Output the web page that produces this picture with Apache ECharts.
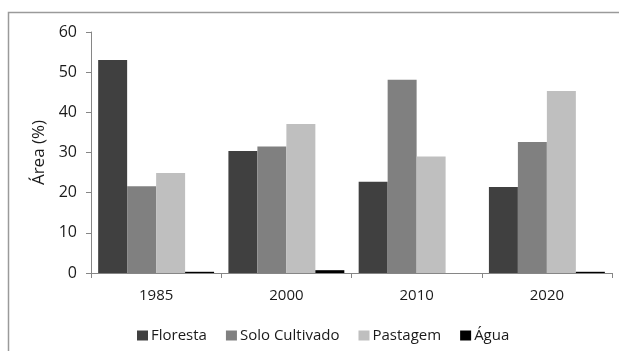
<!DOCTYPE html>
<html>
<head>
<meta charset="utf-8">
<script src="https://cdn.jsdelivr.net/npm/echarts@6/dist/echarts.min.js"></script>
<style>
  html, body { margin: 0; padding: 0; background: #ffffff; }
  #chart { width: 619px; height: 351px; }
</style>
</head>
<body>
<div id="chart"></div>
<script>
// Land cover share by year (% of area)
const years = ['1985', '2000', '2010', '2020'];
const floresta = [53.0, 30.4, 22.7, 21.4];
const soloCultivado = [21.6, 31.5, 48.1, 32.6];
const pastagem = [24.9, 37.1, 29.0, 45.3];
const agua = [0.3, 0.7, 0, 0.3];
const yTicks = { min: 0, max: 60, step: 10 };

const FONT = '"Open Sans", sans-serif';
const AXIS_COLOR = '#868686';
const TEXT_COLOR = '#1a1a1a';

const seriesDefs = [
  { name: 'Floresta', data: floresta, color: '#404040' },
  { name: 'Solo Cultivado', data: soloCultivado, color: '#808080' },
  { name: 'Pastagem', data: pastagem, color: '#bfbfbf' },
  { name: 'Água', data: agua, color: '#000000' }
];

const chart = echarts.init(document.getElementById('chart'), null, { renderer: 'canvas' });

chart.setOption({
  animation: false,
  backgroundColor: '#ffffff',
  graphic: [
    {
      type: 'rect',
      shape: { x: 8.5, y: 12.5, width: 700, height: 400 },
      style: { fill: 'none', stroke: '#9a9a9a', lineWidth: 1.5 },
      silent: true,
      z: 0
    }
  ],
  grid: { left: 91, right: 7, top: 32, bottom: 78, containLabel: false },
  legend: {
    left: 137,
    top: 328,
    padding: 0,
    itemWidth: 11,
    itemHeight: 10,
    itemGap: 19,
    icon: 'rect',
    textStyle: { fontFamily: FONT, fontSize: 15, color: TEXT_COLOR, padding: [0, 0, 0, -2] },
    data: seriesDefs.map(s => s.name)
  },
  xAxis: {
    type: 'category',
    data: years,
    axisLine: { show: true, lineStyle: { color: AXIS_COLOR, width: 1 } },
    axisTick: { show: true, length: 5, alignWithLabel: false, lineStyle: { color: AXIS_COLOR } },
    axisLabel: { margin: 15, fontFamily: FONT, fontSize: 15, color: TEXT_COLOR },
    splitLine: { show: false }
  },
  yAxis: {
    type: 'value',
    min: yTicks.min,
    max: yTicks.max,
    interval: yTicks.step,
    name: 'Área (%)',
    nameLocation: 'middle',
    nameGap: 41,
    nameRotate: 90,
    nameTextStyle: { fontFamily: FONT, fontSize: 17, color: TEXT_COLOR },
    axisLine: { show: true, lineStyle: { color: AXIS_COLOR, width: 1 } },
    axisTick: { show: true, length: 5, lineStyle: { color: AXIS_COLOR } },
    axisLabel: { margin: 14, fontFamily: FONT, fontSize: 16, color: TEXT_COLOR },
    splitLine: { show: false }
  },
  series: seriesDefs.map(s => ({
    name: s.name,
    type: 'bar',
    data: s.data,
    barGap: '0%',
    barCategoryGap: '11%',
    itemStyle: { color: s.color },
    emphasis: { disabled: true }
  }))
});
</script>
</body>
</html>
